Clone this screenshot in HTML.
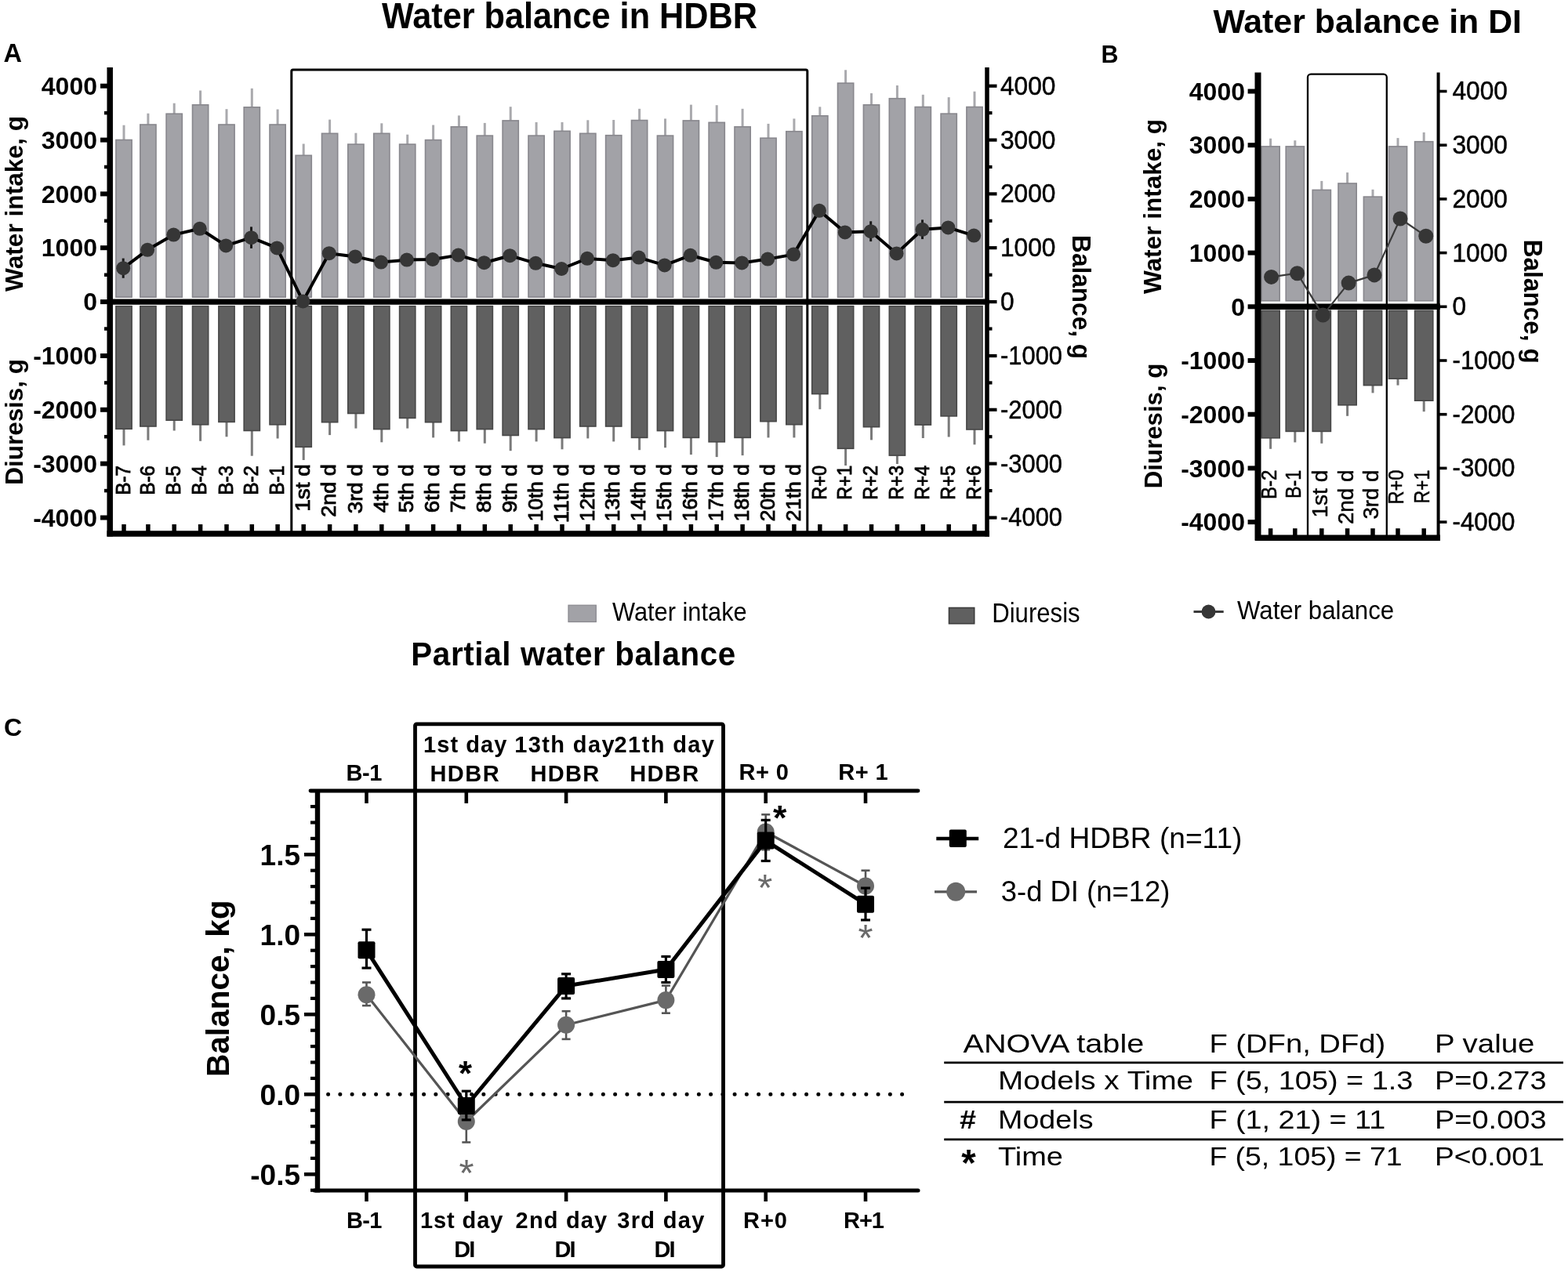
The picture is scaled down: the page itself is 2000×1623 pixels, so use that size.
<!DOCTYPE html>
<html><head><meta charset="utf-8"><title>Water balance</title>
<style>
html,body{margin:0;padding:0;background:#fff;}
body{width:2000px;height:1623px;overflow:hidden;}
svg{display:block;}
svg text{font-family:"Liberation Sans", Arial, sans-serif;}
</style></head><body>
<svg width="2000" height="1623" viewBox="0 0 2000 1623">
<rect width="2000" height="1623" fill="#fff"/>
<line x1="158" y1="178.5" x2="158" y2="159.7" stroke="#a9a9ad" stroke-width="3" stroke-linecap="butt"/>
<rect x="147.9" y="178.5" width="20.2" height="200.6" fill="#a2a2a7" stroke="#88878d" stroke-width="1.6"/>
<line x1="188.9" y1="159" x2="188.9" y2="144.7" stroke="#a9a9ad" stroke-width="3" stroke-linecap="butt"/>
<rect x="178.8" y="159" width="20.2" height="220.1" fill="#a2a2a7" stroke="#88878d" stroke-width="1.6"/>
<line x1="222.2" y1="145.2" x2="222.2" y2="131.7" stroke="#a9a9ad" stroke-width="3" stroke-linecap="butt"/>
<rect x="212.1" y="145.2" width="20.2" height="233.9" fill="#a2a2a7" stroke="#88878d" stroke-width="1.6"/>
<line x1="255.6" y1="133.8" x2="255.6" y2="115.5" stroke="#a9a9ad" stroke-width="3" stroke-linecap="butt"/>
<rect x="245.5" y="133.8" width="20.2" height="245.3" fill="#a2a2a7" stroke="#88878d" stroke-width="1.6"/>
<line x1="289" y1="159" x2="289" y2="139.2" stroke="#a9a9ad" stroke-width="3" stroke-linecap="butt"/>
<rect x="278.9" y="159" width="20.2" height="220.1" fill="#a2a2a7" stroke="#88878d" stroke-width="1.6"/>
<line x1="321.3" y1="136.8" x2="321.3" y2="112.8" stroke="#a9a9ad" stroke-width="3" stroke-linecap="butt"/>
<rect x="311.2" y="136.8" width="20.2" height="242.3" fill="#a2a2a7" stroke="#88878d" stroke-width="1.6"/>
<line x1="354.1" y1="159" x2="354.1" y2="139.5" stroke="#a9a9ad" stroke-width="3" stroke-linecap="butt"/>
<rect x="344" y="159" width="20.2" height="220.1" fill="#a2a2a7" stroke="#88878d" stroke-width="1.6"/>
<line x1="387.2" y1="198.3" x2="387.2" y2="183.5" stroke="#a9a9ad" stroke-width="3" stroke-linecap="butt"/>
<rect x="377.1" y="198.3" width="20.2" height="180.8" fill="#a2a2a7" stroke="#88878d" stroke-width="1.6"/>
<line x1="420.6" y1="170.3" x2="420.6" y2="152.6" stroke="#a9a9ad" stroke-width="3" stroke-linecap="butt"/>
<rect x="410.5" y="170.3" width="20.2" height="208.8" fill="#a2a2a7" stroke="#88878d" stroke-width="1.6"/>
<line x1="453.9" y1="184.1" x2="453.9" y2="169.7" stroke="#a9a9ad" stroke-width="3" stroke-linecap="butt"/>
<rect x="443.8" y="184.1" width="20.2" height="195" fill="#a2a2a7" stroke="#88878d" stroke-width="1.6"/>
<line x1="486.8" y1="170.3" x2="486.8" y2="157.3" stroke="#a9a9ad" stroke-width="3" stroke-linecap="butt"/>
<rect x="476.7" y="170.3" width="20.2" height="208.8" fill="#a2a2a7" stroke="#88878d" stroke-width="1.6"/>
<line x1="519.7" y1="184.1" x2="519.7" y2="171.7" stroke="#a9a9ad" stroke-width="3" stroke-linecap="butt"/>
<rect x="509.6" y="184.1" width="20.2" height="195" fill="#a2a2a7" stroke="#88878d" stroke-width="1.6"/>
<line x1="552.6" y1="178.6" x2="552.6" y2="159.5" stroke="#a9a9ad" stroke-width="3" stroke-linecap="butt"/>
<rect x="542.5" y="178.6" width="20.2" height="200.5" fill="#a2a2a7" stroke="#88878d" stroke-width="1.6"/>
<line x1="585.4" y1="161.8" x2="585.4" y2="147.4" stroke="#a9a9ad" stroke-width="3" stroke-linecap="butt"/>
<rect x="575.3" y="161.8" width="20.2" height="217.3" fill="#a2a2a7" stroke="#88878d" stroke-width="1.6"/>
<line x1="618.3" y1="173.1" x2="618.3" y2="156.9" stroke="#a9a9ad" stroke-width="3" stroke-linecap="butt"/>
<rect x="608.2" y="173.1" width="20.2" height="206" fill="#a2a2a7" stroke="#88878d" stroke-width="1.6"/>
<line x1="651.2" y1="153.9" x2="651.2" y2="136.2" stroke="#a9a9ad" stroke-width="3" stroke-linecap="butt"/>
<rect x="641.1" y="153.9" width="20.2" height="225.2" fill="#a2a2a7" stroke="#88878d" stroke-width="1.6"/>
<line x1="684.1" y1="173.1" x2="684.1" y2="155.9" stroke="#a9a9ad" stroke-width="3" stroke-linecap="butt"/>
<rect x="674" y="173.1" width="20.2" height="206" fill="#a2a2a7" stroke="#88878d" stroke-width="1.6"/>
<line x1="717" y1="167.3" x2="717" y2="155.9" stroke="#a9a9ad" stroke-width="3" stroke-linecap="butt"/>
<rect x="706.9" y="167.3" width="20.2" height="211.8" fill="#a2a2a7" stroke="#88878d" stroke-width="1.6"/>
<line x1="749.8" y1="170.3" x2="749.8" y2="153.3" stroke="#a9a9ad" stroke-width="3" stroke-linecap="butt"/>
<rect x="739.7" y="170.3" width="20.2" height="208.8" fill="#a2a2a7" stroke="#88878d" stroke-width="1.6"/>
<line x1="782.7" y1="172.7" x2="782.7" y2="153" stroke="#a9a9ad" stroke-width="3" stroke-linecap="butt"/>
<rect x="772.6" y="172.7" width="20.2" height="206.4" fill="#a2a2a7" stroke="#88878d" stroke-width="1.6"/>
<line x1="815.6" y1="153.5" x2="815.6" y2="138.8" stroke="#a9a9ad" stroke-width="3" stroke-linecap="butt"/>
<rect x="805.5" y="153.5" width="20.2" height="225.6" fill="#a2a2a7" stroke="#88878d" stroke-width="1.6"/>
<line x1="848.5" y1="173.1" x2="848.5" y2="151.4" stroke="#a9a9ad" stroke-width="3" stroke-linecap="butt"/>
<rect x="838.4" y="173.1" width="20.2" height="206" fill="#a2a2a7" stroke="#88878d" stroke-width="1.6"/>
<line x1="881.4" y1="153.9" x2="881.4" y2="133.6" stroke="#a9a9ad" stroke-width="3" stroke-linecap="butt"/>
<rect x="871.3" y="153.9" width="20.2" height="225.2" fill="#a2a2a7" stroke="#88878d" stroke-width="1.6"/>
<line x1="914.2" y1="156.3" x2="914.2" y2="134.2" stroke="#a9a9ad" stroke-width="3" stroke-linecap="butt"/>
<rect x="904.1" y="156.3" width="20.2" height="222.8" fill="#a2a2a7" stroke="#88878d" stroke-width="1.6"/>
<line x1="947.1" y1="161.8" x2="947.1" y2="138.8" stroke="#a9a9ad" stroke-width="3" stroke-linecap="butt"/>
<rect x="937" y="161.8" width="20.2" height="217.3" fill="#a2a2a7" stroke="#88878d" stroke-width="1.6"/>
<line x1="980" y1="176.2" x2="980" y2="157.9" stroke="#a9a9ad" stroke-width="3" stroke-linecap="butt"/>
<rect x="969.9" y="176.2" width="20.2" height="202.9" fill="#a2a2a7" stroke="#88878d" stroke-width="1.6"/>
<line x1="1012.9" y1="167.7" x2="1012.9" y2="151.4" stroke="#a9a9ad" stroke-width="3" stroke-linecap="butt"/>
<rect x="1002.8" y="167.7" width="20.2" height="211.4" fill="#a2a2a7" stroke="#88878d" stroke-width="1.6"/>
<line x1="1045.8" y1="147.8" x2="1045.8" y2="136.3" stroke="#a9a9ad" stroke-width="3" stroke-linecap="butt"/>
<rect x="1035.7" y="147.8" width="20.2" height="231.3" fill="#a2a2a7" stroke="#88878d" stroke-width="1.6"/>
<line x1="1078.6" y1="106.1" x2="1078.6" y2="89.3" stroke="#a9a9ad" stroke-width="3" stroke-linecap="butt"/>
<rect x="1068.5" y="106.1" width="20.2" height="273" fill="#a2a2a7" stroke="#88878d" stroke-width="1.6"/>
<line x1="1111.5" y1="133.8" x2="1111.5" y2="119" stroke="#a9a9ad" stroke-width="3" stroke-linecap="butt"/>
<rect x="1101.4" y="133.8" width="20.2" height="245.3" fill="#a2a2a7" stroke="#88878d" stroke-width="1.6"/>
<line x1="1144.4" y1="125.7" x2="1144.4" y2="109" stroke="#a9a9ad" stroke-width="3" stroke-linecap="butt"/>
<rect x="1134.3" y="125.7" width="20.2" height="253.4" fill="#a2a2a7" stroke="#88878d" stroke-width="1.6"/>
<line x1="1177.3" y1="136.5" x2="1177.3" y2="120.8" stroke="#a9a9ad" stroke-width="3" stroke-linecap="butt"/>
<rect x="1167.2" y="136.5" width="20.2" height="242.6" fill="#a2a2a7" stroke="#88878d" stroke-width="1.6"/>
<line x1="1210.2" y1="145.1" x2="1210.2" y2="124.1" stroke="#a9a9ad" stroke-width="3" stroke-linecap="butt"/>
<rect x="1200.1" y="145.1" width="20.2" height="234.1" fill="#a2a2a7" stroke="#88878d" stroke-width="1.6"/>
<line x1="1243" y1="136.5" x2="1243" y2="116.7" stroke="#a9a9ad" stroke-width="3" stroke-linecap="butt"/>
<rect x="1232.9" y="136.5" width="20.2" height="242.6" fill="#a2a2a7" stroke="#88878d" stroke-width="1.6"/>
<line x1="158" y1="547.3" x2="158" y2="568.4" stroke="#7a7a7a" stroke-width="3" stroke-linecap="butt"/>
<rect x="147.9" y="390.7" width="20.2" height="156.6" fill="#606060" stroke="#474747" stroke-width="1.6"/>
<line x1="188.9" y1="544" x2="188.9" y2="561.7" stroke="#7a7a7a" stroke-width="3" stroke-linecap="butt"/>
<rect x="178.8" y="390.7" width="20.2" height="153.3" fill="#606060" stroke="#474747" stroke-width="1.6"/>
<line x1="222.2" y1="536.2" x2="222.2" y2="549.5" stroke="#7a7a7a" stroke-width="3" stroke-linecap="butt"/>
<rect x="212.1" y="390.7" width="20.2" height="145.5" fill="#606060" stroke="#474747" stroke-width="1.6"/>
<line x1="255.6" y1="541.8" x2="255.6" y2="562.8" stroke="#7a7a7a" stroke-width="3" stroke-linecap="butt"/>
<rect x="245.5" y="390.7" width="20.2" height="151.1" fill="#606060" stroke="#474747" stroke-width="1.6"/>
<line x1="289" y1="538.4" x2="289" y2="557.3" stroke="#7a7a7a" stroke-width="3" stroke-linecap="butt"/>
<rect x="278.9" y="390.7" width="20.2" height="147.7" fill="#606060" stroke="#474747" stroke-width="1.6"/>
<line x1="321.3" y1="549.5" x2="321.3" y2="581.7" stroke="#7a7a7a" stroke-width="3" stroke-linecap="butt"/>
<rect x="311.2" y="390.7" width="20.2" height="158.8" fill="#606060" stroke="#474747" stroke-width="1.6"/>
<line x1="354.1" y1="541.8" x2="354.1" y2="559.5" stroke="#7a7a7a" stroke-width="3" stroke-linecap="butt"/>
<rect x="344" y="390.7" width="20.2" height="151.1" fill="#606060" stroke="#474747" stroke-width="1.6"/>
<line x1="387.2" y1="570.3" x2="387.2" y2="587" stroke="#7a7a7a" stroke-width="3" stroke-linecap="butt"/>
<rect x="377.1" y="390.7" width="20.2" height="179.6" fill="#606060" stroke="#474747" stroke-width="1.6"/>
<line x1="420.6" y1="538.7" x2="420.6" y2="555.1" stroke="#7a7a7a" stroke-width="3" stroke-linecap="butt"/>
<rect x="410.5" y="390.7" width="20.2" height="148" fill="#606060" stroke="#474747" stroke-width="1.6"/>
<line x1="453.9" y1="527.5" x2="453.9" y2="546.6" stroke="#7a7a7a" stroke-width="3" stroke-linecap="butt"/>
<rect x="443.8" y="390.7" width="20.2" height="136.8" fill="#606060" stroke="#474747" stroke-width="1.6"/>
<line x1="486.8" y1="547.6" x2="486.8" y2="564.3" stroke="#7a7a7a" stroke-width="3" stroke-linecap="butt"/>
<rect x="476.7" y="390.7" width="20.2" height="156.9" fill="#606060" stroke="#474747" stroke-width="1.6"/>
<line x1="519.7" y1="533.4" x2="519.7" y2="546.6" stroke="#7a7a7a" stroke-width="3" stroke-linecap="butt"/>
<rect x="509.6" y="390.7" width="20.2" height="142.7" fill="#606060" stroke="#474747" stroke-width="1.6"/>
<line x1="552.6" y1="538.7" x2="552.6" y2="558.4" stroke="#7a7a7a" stroke-width="3" stroke-linecap="butt"/>
<rect x="542.5" y="390.7" width="20.2" height="148" fill="#606060" stroke="#474747" stroke-width="1.6"/>
<line x1="585.4" y1="549.6" x2="585.4" y2="563.4" stroke="#7a7a7a" stroke-width="3" stroke-linecap="butt"/>
<rect x="575.3" y="390.7" width="20.2" height="158.9" fill="#606060" stroke="#474747" stroke-width="1.6"/>
<line x1="618.3" y1="547.6" x2="618.3" y2="565.7" stroke="#7a7a7a" stroke-width="3" stroke-linecap="butt"/>
<rect x="608.2" y="390.7" width="20.2" height="156.9" fill="#606060" stroke="#474747" stroke-width="1.6"/>
<line x1="651.2" y1="555.5" x2="651.2" y2="575.2" stroke="#7a7a7a" stroke-width="3" stroke-linecap="butt"/>
<rect x="641.1" y="390.7" width="20.2" height="164.8" fill="#606060" stroke="#474747" stroke-width="1.6"/>
<line x1="684.1" y1="547.6" x2="684.1" y2="563.4" stroke="#7a7a7a" stroke-width="3" stroke-linecap="butt"/>
<rect x="674" y="390.7" width="20.2" height="156.9" fill="#606060" stroke="#474747" stroke-width="1.6"/>
<line x1="717" y1="558.6" x2="717" y2="573.3" stroke="#7a7a7a" stroke-width="3" stroke-linecap="butt"/>
<rect x="706.9" y="390.7" width="20.2" height="167.9" fill="#606060" stroke="#474747" stroke-width="1.6"/>
<line x1="749.8" y1="544" x2="749.8" y2="559.4" stroke="#7a7a7a" stroke-width="3" stroke-linecap="butt"/>
<rect x="739.7" y="390.7" width="20.2" height="153.3" fill="#606060" stroke="#474747" stroke-width="1.6"/>
<line x1="782.7" y1="544" x2="782.7" y2="563.4" stroke="#7a7a7a" stroke-width="3" stroke-linecap="butt"/>
<rect x="772.6" y="390.7" width="20.2" height="153.3" fill="#606060" stroke="#474747" stroke-width="1.6"/>
<line x1="815.6" y1="558.4" x2="815.6" y2="574.2" stroke="#7a7a7a" stroke-width="3" stroke-linecap="butt"/>
<rect x="805.5" y="390.7" width="20.2" height="167.7" fill="#606060" stroke="#474747" stroke-width="1.6"/>
<line x1="848.5" y1="549.6" x2="848.5" y2="571.2" stroke="#7a7a7a" stroke-width="3" stroke-linecap="butt"/>
<rect x="838.4" y="390.7" width="20.2" height="158.9" fill="#606060" stroke="#474747" stroke-width="1.6"/>
<line x1="881.4" y1="558.4" x2="881.4" y2="580.1" stroke="#7a7a7a" stroke-width="3" stroke-linecap="butt"/>
<rect x="871.3" y="390.7" width="20.2" height="167.7" fill="#606060" stroke="#474747" stroke-width="1.6"/>
<line x1="914.2" y1="563.8" x2="914.2" y2="583.1" stroke="#7a7a7a" stroke-width="3" stroke-linecap="butt"/>
<rect x="904.1" y="390.7" width="20.2" height="173.1" fill="#606060" stroke="#474747" stroke-width="1.6"/>
<line x1="947.1" y1="558.4" x2="947.1" y2="581.1" stroke="#7a7a7a" stroke-width="3" stroke-linecap="butt"/>
<rect x="937" y="390.7" width="20.2" height="167.7" fill="#606060" stroke="#474747" stroke-width="1.6"/>
<line x1="980" y1="537.7" x2="980" y2="558.4" stroke="#7a7a7a" stroke-width="3" stroke-linecap="butt"/>
<rect x="969.9" y="390.7" width="20.2" height="147" fill="#606060" stroke="#474747" stroke-width="1.6"/>
<line x1="1012.9" y1="541.7" x2="1012.9" y2="558.4" stroke="#7a7a7a" stroke-width="3" stroke-linecap="butt"/>
<rect x="1002.8" y="390.7" width="20.2" height="151" fill="#606060" stroke="#474747" stroke-width="1.6"/>
<line x1="1045.8" y1="502.6" x2="1045.8" y2="522.2" stroke="#7a7a7a" stroke-width="3" stroke-linecap="butt"/>
<rect x="1035.7" y="390.7" width="20.2" height="111.9" fill="#606060" stroke="#474747" stroke-width="1.6"/>
<line x1="1078.6" y1="572.3" x2="1078.6" y2="594" stroke="#7a7a7a" stroke-width="3" stroke-linecap="butt"/>
<rect x="1068.5" y="390.7" width="20.2" height="181.6" fill="#606060" stroke="#474747" stroke-width="1.6"/>
<line x1="1111.5" y1="544.7" x2="1111.5" y2="561.4" stroke="#7a7a7a" stroke-width="3" stroke-linecap="butt"/>
<rect x="1101.4" y="390.7" width="20.2" height="154" fill="#606060" stroke="#474747" stroke-width="1.6"/>
<line x1="1144.4" y1="581.1" x2="1144.4" y2="592" stroke="#7a7a7a" stroke-width="3" stroke-linecap="butt"/>
<rect x="1134.3" y="390.7" width="20.2" height="190.4" fill="#606060" stroke="#474747" stroke-width="1.6"/>
<line x1="1177.3" y1="542.1" x2="1177.3" y2="559" stroke="#7a7a7a" stroke-width="3" stroke-linecap="butt"/>
<rect x="1167.2" y="390.7" width="20.2" height="151.4" fill="#606060" stroke="#474747" stroke-width="1.6"/>
<line x1="1210.2" y1="530.9" x2="1210.2" y2="557.5" stroke="#7a7a7a" stroke-width="3" stroke-linecap="butt"/>
<rect x="1200.1" y="390.7" width="20.2" height="140.2" fill="#606060" stroke="#474747" stroke-width="1.6"/>
<line x1="1243" y1="548" x2="1243" y2="567.3" stroke="#7a7a7a" stroke-width="3" stroke-linecap="butt"/>
<rect x="1232.9" y="390.7" width="20.2" height="157.3" fill="#606060" stroke="#474747" stroke-width="1.6"/>
<rect x="371.8" y="89" width="658" height="592" fill="none" stroke="#000" stroke-width="3" rx="2"/>
<line x1="137" y1="385.1" x2="1262" y2="385.1" stroke="#000" stroke-width="7.2" stroke-linecap="butt"/>
<line x1="140.2" y1="86" x2="140.2" y2="684.5" stroke="#000" stroke-width="7.5" stroke-linecap="butt"/>
<line x1="1259" y1="86" x2="1259" y2="684.5" stroke="#000" stroke-width="5.5" stroke-linecap="butt"/>
<line x1="136.5" y1="681" x2="1262" y2="681" stroke="#000" stroke-width="7.5" stroke-linecap="butt"/>
<line x1="158" y1="669" x2="158" y2="681" stroke="#000" stroke-width="5.5" stroke-linecap="butt"/>
<line x1="188.9" y1="669" x2="188.9" y2="681" stroke="#000" stroke-width="5.5" stroke-linecap="butt"/>
<line x1="222.2" y1="669" x2="222.2" y2="681" stroke="#000" stroke-width="5.5" stroke-linecap="butt"/>
<line x1="255.6" y1="669" x2="255.6" y2="681" stroke="#000" stroke-width="5.5" stroke-linecap="butt"/>
<line x1="289" y1="669" x2="289" y2="681" stroke="#000" stroke-width="5.5" stroke-linecap="butt"/>
<line x1="321.3" y1="669" x2="321.3" y2="681" stroke="#000" stroke-width="5.5" stroke-linecap="butt"/>
<line x1="354.1" y1="669" x2="354.1" y2="681" stroke="#000" stroke-width="5.5" stroke-linecap="butt"/>
<line x1="387.2" y1="669" x2="387.2" y2="681" stroke="#000" stroke-width="5.5" stroke-linecap="butt"/>
<line x1="420.6" y1="669" x2="420.6" y2="681" stroke="#000" stroke-width="5.5" stroke-linecap="butt"/>
<line x1="453.9" y1="669" x2="453.9" y2="681" stroke="#000" stroke-width="5.5" stroke-linecap="butt"/>
<line x1="486.8" y1="669" x2="486.8" y2="681" stroke="#000" stroke-width="5.5" stroke-linecap="butt"/>
<line x1="519.7" y1="669" x2="519.7" y2="681" stroke="#000" stroke-width="5.5" stroke-linecap="butt"/>
<line x1="552.6" y1="669" x2="552.6" y2="681" stroke="#000" stroke-width="5.5" stroke-linecap="butt"/>
<line x1="585.4" y1="669" x2="585.4" y2="681" stroke="#000" stroke-width="5.5" stroke-linecap="butt"/>
<line x1="618.3" y1="669" x2="618.3" y2="681" stroke="#000" stroke-width="5.5" stroke-linecap="butt"/>
<line x1="651.2" y1="669" x2="651.2" y2="681" stroke="#000" stroke-width="5.5" stroke-linecap="butt"/>
<line x1="684.1" y1="669" x2="684.1" y2="681" stroke="#000" stroke-width="5.5" stroke-linecap="butt"/>
<line x1="717" y1="669" x2="717" y2="681" stroke="#000" stroke-width="5.5" stroke-linecap="butt"/>
<line x1="749.8" y1="669" x2="749.8" y2="681" stroke="#000" stroke-width="5.5" stroke-linecap="butt"/>
<line x1="782.7" y1="669" x2="782.7" y2="681" stroke="#000" stroke-width="5.5" stroke-linecap="butt"/>
<line x1="815.6" y1="669" x2="815.6" y2="681" stroke="#000" stroke-width="5.5" stroke-linecap="butt"/>
<line x1="848.5" y1="669" x2="848.5" y2="681" stroke="#000" stroke-width="5.5" stroke-linecap="butt"/>
<line x1="881.4" y1="669" x2="881.4" y2="681" stroke="#000" stroke-width="5.5" stroke-linecap="butt"/>
<line x1="914.2" y1="669" x2="914.2" y2="681" stroke="#000" stroke-width="5.5" stroke-linecap="butt"/>
<line x1="947.1" y1="669" x2="947.1" y2="681" stroke="#000" stroke-width="5.5" stroke-linecap="butt"/>
<line x1="980" y1="669" x2="980" y2="681" stroke="#000" stroke-width="5.5" stroke-linecap="butt"/>
<line x1="1012.9" y1="669" x2="1012.9" y2="681" stroke="#000" stroke-width="5.5" stroke-linecap="butt"/>
<line x1="1045.8" y1="669" x2="1045.8" y2="681" stroke="#000" stroke-width="5.5" stroke-linecap="butt"/>
<line x1="1078.6" y1="669" x2="1078.6" y2="681" stroke="#000" stroke-width="5.5" stroke-linecap="butt"/>
<line x1="1111.5" y1="669" x2="1111.5" y2="681" stroke="#000" stroke-width="5.5" stroke-linecap="butt"/>
<line x1="1144.4" y1="669" x2="1144.4" y2="681" stroke="#000" stroke-width="5.5" stroke-linecap="butt"/>
<line x1="1177.3" y1="669" x2="1177.3" y2="681" stroke="#000" stroke-width="5.5" stroke-linecap="butt"/>
<line x1="1210.2" y1="669" x2="1210.2" y2="681" stroke="#000" stroke-width="5.5" stroke-linecap="butt"/>
<line x1="1243" y1="669" x2="1243" y2="681" stroke="#000" stroke-width="5.5" stroke-linecap="butt"/>
<line x1="128" y1="660.5" x2="140.2" y2="660.5" stroke="#000" stroke-width="6" stroke-linecap="butt"/>
<line x1="1259" y1="660.5" x2="1271.5" y2="660.5" stroke="#000" stroke-width="4.2" stroke-linecap="butt"/>
<line x1="133" y1="626.1" x2="140.2" y2="626.1" stroke="#000" stroke-width="4.5" stroke-linecap="butt"/>
<line x1="1259" y1="626.1" x2="1265.5" y2="626.1" stroke="#000" stroke-width="4.2" stroke-linecap="butt"/>
<line x1="128" y1="591.6" x2="140.2" y2="591.6" stroke="#000" stroke-width="6" stroke-linecap="butt"/>
<line x1="1259" y1="591.6" x2="1271.5" y2="591.6" stroke="#000" stroke-width="4.2" stroke-linecap="butt"/>
<line x1="133" y1="557.2" x2="140.2" y2="557.2" stroke="#000" stroke-width="4.5" stroke-linecap="butt"/>
<line x1="1259" y1="557.2" x2="1265.5" y2="557.2" stroke="#000" stroke-width="4.2" stroke-linecap="butt"/>
<line x1="128" y1="522.8" x2="140.2" y2="522.8" stroke="#000" stroke-width="6" stroke-linecap="butt"/>
<line x1="1259" y1="522.8" x2="1271.5" y2="522.8" stroke="#000" stroke-width="4.2" stroke-linecap="butt"/>
<line x1="133" y1="488.4" x2="140.2" y2="488.4" stroke="#000" stroke-width="4.5" stroke-linecap="butt"/>
<line x1="1259" y1="488.4" x2="1265.5" y2="488.4" stroke="#000" stroke-width="4.2" stroke-linecap="butt"/>
<line x1="128" y1="454" x2="140.2" y2="454" stroke="#000" stroke-width="6" stroke-linecap="butt"/>
<line x1="1259" y1="454" x2="1271.5" y2="454" stroke="#000" stroke-width="4.2" stroke-linecap="butt"/>
<line x1="133" y1="419.5" x2="140.2" y2="419.5" stroke="#000" stroke-width="4.5" stroke-linecap="butt"/>
<line x1="1259" y1="419.5" x2="1265.5" y2="419.5" stroke="#000" stroke-width="4.2" stroke-linecap="butt"/>
<line x1="128" y1="385.1" x2="140.2" y2="385.1" stroke="#000" stroke-width="6" stroke-linecap="butt"/>
<line x1="1259" y1="385.1" x2="1271.5" y2="385.1" stroke="#000" stroke-width="4.2" stroke-linecap="butt"/>
<line x1="133" y1="350.7" x2="140.2" y2="350.7" stroke="#000" stroke-width="4.5" stroke-linecap="butt"/>
<line x1="1259" y1="350.7" x2="1265.5" y2="350.7" stroke="#000" stroke-width="4.2" stroke-linecap="butt"/>
<line x1="128" y1="316.2" x2="140.2" y2="316.2" stroke="#000" stroke-width="6" stroke-linecap="butt"/>
<line x1="1259" y1="316.2" x2="1271.5" y2="316.2" stroke="#000" stroke-width="4.2" stroke-linecap="butt"/>
<line x1="133" y1="281.8" x2="140.2" y2="281.8" stroke="#000" stroke-width="4.5" stroke-linecap="butt"/>
<line x1="1259" y1="281.8" x2="1265.5" y2="281.8" stroke="#000" stroke-width="4.2" stroke-linecap="butt"/>
<line x1="128" y1="247.4" x2="140.2" y2="247.4" stroke="#000" stroke-width="6" stroke-linecap="butt"/>
<line x1="1259" y1="247.4" x2="1271.5" y2="247.4" stroke="#000" stroke-width="4.2" stroke-linecap="butt"/>
<line x1="133" y1="213" x2="140.2" y2="213" stroke="#000" stroke-width="4.5" stroke-linecap="butt"/>
<line x1="1259" y1="213" x2="1265.5" y2="213" stroke="#000" stroke-width="4.2" stroke-linecap="butt"/>
<line x1="128" y1="178.6" x2="140.2" y2="178.6" stroke="#000" stroke-width="6" stroke-linecap="butt"/>
<line x1="1259" y1="178.6" x2="1271.5" y2="178.6" stroke="#000" stroke-width="4.2" stroke-linecap="butt"/>
<line x1="133" y1="144.1" x2="140.2" y2="144.1" stroke="#000" stroke-width="4.5" stroke-linecap="butt"/>
<line x1="1259" y1="144.1" x2="1265.5" y2="144.1" stroke="#000" stroke-width="4.2" stroke-linecap="butt"/>
<line x1="128" y1="109.7" x2="140.2" y2="109.7" stroke="#000" stroke-width="6" stroke-linecap="butt"/>
<line x1="1259" y1="109.7" x2="1271.5" y2="109.7" stroke="#000" stroke-width="4.2" stroke-linecap="butt"/>
<text x="124" y="671.7" font-size="32" font-weight="bold" text-anchor="end">-4000</text>
<text x="1276" y="671.4" font-size="33.5" textLength="79" lengthAdjust="spacingAndGlyphs" stroke="#000" stroke-width="0.5">-4000</text>
<text x="124" y="602.9" font-size="32" font-weight="bold" text-anchor="end">-3000</text>
<text x="1276" y="602.6" font-size="33.5" textLength="79" lengthAdjust="spacingAndGlyphs" stroke="#000" stroke-width="0.5">-3000</text>
<text x="124" y="534" font-size="32" font-weight="bold" text-anchor="end">-2000</text>
<text x="1276" y="533.7" font-size="33.5" textLength="79" lengthAdjust="spacingAndGlyphs" stroke="#000" stroke-width="0.5">-2000</text>
<text x="124" y="465.2" font-size="32" font-weight="bold" text-anchor="end">-1000</text>
<text x="1276" y="464.9" font-size="33.5" textLength="79" lengthAdjust="spacingAndGlyphs" stroke="#000" stroke-width="0.5">-1000</text>
<text x="124" y="396.3" font-size="32" font-weight="bold" text-anchor="end">0</text>
<text x="1276" y="396" font-size="33.5" textLength="17.6" lengthAdjust="spacingAndGlyphs" stroke="#000" stroke-width="0.5">0</text>
<text x="124" y="327.4" font-size="32" font-weight="bold" text-anchor="end">1000</text>
<text x="1276" y="327.1" font-size="33.5" textLength="70.5" lengthAdjust="spacingAndGlyphs" stroke="#000" stroke-width="0.5">1000</text>
<text x="124" y="258.6" font-size="32" font-weight="bold" text-anchor="end">2000</text>
<text x="1276" y="258.3" font-size="33.5" textLength="70.5" lengthAdjust="spacingAndGlyphs" stroke="#000" stroke-width="0.5">2000</text>
<text x="124" y="189.8" font-size="32" font-weight="bold" text-anchor="end">3000</text>
<text x="1276" y="189.5" font-size="33.5" textLength="70.5" lengthAdjust="spacingAndGlyphs" stroke="#000" stroke-width="0.5">3000</text>
<text x="124" y="120.9" font-size="32" font-weight="bold" text-anchor="end">4000</text>
<text x="1276" y="120.6" font-size="33.5" textLength="70.5" lengthAdjust="spacingAndGlyphs" stroke="#000" stroke-width="0.5">4000</text>
<polyline points="157.2,342.2 188.1,318.8 221.4,299.6 254.8,291.8 288.2,313.4 320.5,303.2 353.3,316.4 386.4,384.4 419.8,323.2 453.1,327.4 486,334.6 518.9,331.6 551.8,331 584.6,325.6 617.5,335.2 650.4,326.2 683.3,335.8 716.2,343 749,329.8 781.9,332.2 814.8,328.6 847.7,338.4 880.6,325.8 913.4,334.8 946.3,335.4 979.2,330.6 1012.1,324.6 1045,268.8 1077.8,296.4 1110.7,295.2 1143.6,323.4 1176.5,292.8 1209.4,290.4 1242.2,300.6" fill="none" stroke="#000" stroke-width="4.0" stroke-linejoin="round"/>
<line x1="157.2" y1="354.8" x2="157.2" y2="329.6" stroke="#1a1a1a" stroke-width="3" stroke-linecap="butt"/>
<line x1="188.1" y1="326.4" x2="188.1" y2="311.2" stroke="#1a1a1a" stroke-width="3" stroke-linecap="butt"/>
<line x1="221.4" y1="307.2" x2="221.4" y2="292" stroke="#1a1a1a" stroke-width="3" stroke-linecap="butt"/>
<line x1="254.8" y1="299.4" x2="254.8" y2="284.2" stroke="#1a1a1a" stroke-width="3" stroke-linecap="butt"/>
<line x1="288.2" y1="321" x2="288.2" y2="305.9" stroke="#1a1a1a" stroke-width="3" stroke-linecap="butt"/>
<line x1="320.5" y1="316.9" x2="320.5" y2="289.4" stroke="#1a1a1a" stroke-width="3" stroke-linecap="butt"/>
<line x1="353.3" y1="324" x2="353.3" y2="308.8" stroke="#1a1a1a" stroke-width="3" stroke-linecap="butt"/>
<line x1="386.4" y1="392" x2="386.4" y2="376.8" stroke="#1a1a1a" stroke-width="3" stroke-linecap="butt"/>
<line x1="419.8" y1="330.8" x2="419.8" y2="315.6" stroke="#1a1a1a" stroke-width="3" stroke-linecap="butt"/>
<line x1="453.1" y1="335" x2="453.1" y2="319.8" stroke="#1a1a1a" stroke-width="3" stroke-linecap="butt"/>
<line x1="486" y1="342.2" x2="486" y2="327.1" stroke="#1a1a1a" stroke-width="3" stroke-linecap="butt"/>
<line x1="518.9" y1="339.2" x2="518.9" y2="324" stroke="#1a1a1a" stroke-width="3" stroke-linecap="butt"/>
<line x1="551.8" y1="338.6" x2="551.8" y2="323.4" stroke="#1a1a1a" stroke-width="3" stroke-linecap="butt"/>
<line x1="584.6" y1="333.2" x2="584.6" y2="318" stroke="#1a1a1a" stroke-width="3" stroke-linecap="butt"/>
<line x1="617.5" y1="342.8" x2="617.5" y2="327.6" stroke="#1a1a1a" stroke-width="3" stroke-linecap="butt"/>
<line x1="650.4" y1="333.7" x2="650.4" y2="318.6" stroke="#1a1a1a" stroke-width="3" stroke-linecap="butt"/>
<line x1="683.3" y1="343.4" x2="683.3" y2="328.2" stroke="#1a1a1a" stroke-width="3" stroke-linecap="butt"/>
<line x1="716.2" y1="350.6" x2="716.2" y2="335.5" stroke="#1a1a1a" stroke-width="3" stroke-linecap="butt"/>
<line x1="749" y1="337.4" x2="749" y2="322.2" stroke="#1a1a1a" stroke-width="3" stroke-linecap="butt"/>
<line x1="781.9" y1="339.8" x2="781.9" y2="324.6" stroke="#1a1a1a" stroke-width="3" stroke-linecap="butt"/>
<line x1="814.8" y1="336.1" x2="814.8" y2="321" stroke="#1a1a1a" stroke-width="3" stroke-linecap="butt"/>
<line x1="847.7" y1="346" x2="847.7" y2="330.8" stroke="#1a1a1a" stroke-width="3" stroke-linecap="butt"/>
<line x1="880.6" y1="333.4" x2="880.6" y2="318.2" stroke="#1a1a1a" stroke-width="3" stroke-linecap="butt"/>
<line x1="913.4" y1="342.3" x2="913.4" y2="327.2" stroke="#1a1a1a" stroke-width="3" stroke-linecap="butt"/>
<line x1="946.3" y1="343" x2="946.3" y2="327.8" stroke="#1a1a1a" stroke-width="3" stroke-linecap="butt"/>
<line x1="979.2" y1="338.1" x2="979.2" y2="323" stroke="#1a1a1a" stroke-width="3" stroke-linecap="butt"/>
<line x1="1012.1" y1="332.2" x2="1012.1" y2="317" stroke="#1a1a1a" stroke-width="3" stroke-linecap="butt"/>
<line x1="1045" y1="276.4" x2="1045" y2="261.2" stroke="#1a1a1a" stroke-width="3" stroke-linecap="butt"/>
<line x1="1077.8" y1="304" x2="1077.8" y2="288.8" stroke="#1a1a1a" stroke-width="3" stroke-linecap="butt"/>
<line x1="1110.7" y1="308.1" x2="1110.7" y2="282.3" stroke="#1a1a1a" stroke-width="3" stroke-linecap="butt"/>
<line x1="1143.6" y1="331.7" x2="1143.6" y2="315.1" stroke="#1a1a1a" stroke-width="3" stroke-linecap="butt"/>
<line x1="1176.5" y1="305.1" x2="1176.5" y2="280.4" stroke="#1a1a1a" stroke-width="3" stroke-linecap="butt"/>
<line x1="1209.4" y1="298" x2="1209.4" y2="282.9" stroke="#1a1a1a" stroke-width="3" stroke-linecap="butt"/>
<line x1="1242.2" y1="308.9" x2="1242.2" y2="292.4" stroke="#1a1a1a" stroke-width="3" stroke-linecap="butt"/>
<circle cx="157.2" cy="342.2" r="9" fill="#363636"/>
<circle cx="188.1" cy="318.8" r="9" fill="#363636"/>
<circle cx="221.4" cy="299.6" r="9" fill="#363636"/>
<circle cx="254.8" cy="291.8" r="9" fill="#363636"/>
<circle cx="288.2" cy="313.4" r="9" fill="#363636"/>
<circle cx="320.5" cy="303.2" r="9" fill="#363636"/>
<circle cx="353.3" cy="316.4" r="9" fill="#363636"/>
<circle cx="386.4" cy="384.4" r="9" fill="#363636"/>
<circle cx="419.8" cy="323.2" r="9" fill="#363636"/>
<circle cx="453.1" cy="327.4" r="9" fill="#363636"/>
<circle cx="486" cy="334.6" r="9" fill="#363636"/>
<circle cx="518.9" cy="331.6" r="9" fill="#363636"/>
<circle cx="551.8" cy="331" r="9" fill="#363636"/>
<circle cx="584.6" cy="325.6" r="9" fill="#363636"/>
<circle cx="617.5" cy="335.2" r="9" fill="#363636"/>
<circle cx="650.4" cy="326.2" r="9" fill="#363636"/>
<circle cx="683.3" cy="335.8" r="9" fill="#363636"/>
<circle cx="716.2" cy="343" r="9" fill="#363636"/>
<circle cx="749" cy="329.8" r="9" fill="#363636"/>
<circle cx="781.9" cy="332.2" r="9" fill="#363636"/>
<circle cx="814.8" cy="328.6" r="9" fill="#363636"/>
<circle cx="847.7" cy="338.4" r="9" fill="#363636"/>
<circle cx="880.6" cy="325.8" r="9" fill="#363636"/>
<circle cx="913.4" cy="334.8" r="9" fill="#363636"/>
<circle cx="946.3" cy="335.4" r="9" fill="#363636"/>
<circle cx="979.2" cy="330.6" r="9" fill="#363636"/>
<circle cx="1012.1" cy="324.6" r="9" fill="#363636"/>
<circle cx="1045" cy="268.8" r="9" fill="#363636"/>
<circle cx="1077.8" cy="296.4" r="9" fill="#363636"/>
<circle cx="1110.7" cy="295.2" r="9" fill="#363636"/>
<circle cx="1143.6" cy="323.4" r="9" fill="#363636"/>
<circle cx="1176.5" cy="292.8" r="9" fill="#363636"/>
<circle cx="1209.4" cy="290.4" r="9" fill="#363636"/>
<circle cx="1242.2" cy="300.6" r="9" fill="#363636"/>
<text x="165.8" y="594" font-size="26" text-anchor="end" transform="rotate(-90 165.8 594)" textLength="37.5" lengthAdjust="spacingAndGlyphs" stroke="#000" stroke-width="0.9">B-7</text>
<text x="196.7" y="594" font-size="26" text-anchor="end" transform="rotate(-90 196.7 594)" textLength="37.5" lengthAdjust="spacingAndGlyphs" stroke="#000" stroke-width="0.9">B-6</text>
<text x="230" y="594" font-size="26" text-anchor="end" transform="rotate(-90 230 594)" textLength="37.5" lengthAdjust="spacingAndGlyphs" stroke="#000" stroke-width="0.9">B-5</text>
<text x="263.4" y="594" font-size="26" text-anchor="end" transform="rotate(-90 263.4 594)" textLength="37.5" lengthAdjust="spacingAndGlyphs" stroke="#000" stroke-width="0.9">B-4</text>
<text x="296.8" y="594" font-size="26" text-anchor="end" transform="rotate(-90 296.8 594)" textLength="37.5" lengthAdjust="spacingAndGlyphs" stroke="#000" stroke-width="0.9">B-3</text>
<text x="329.1" y="594" font-size="26" text-anchor="end" transform="rotate(-90 329.1 594)" textLength="37.5" lengthAdjust="spacingAndGlyphs" stroke="#000" stroke-width="0.9">B-2</text>
<text x="361.9" y="594" font-size="26" text-anchor="end" transform="rotate(-90 361.9 594)" textLength="37.5" lengthAdjust="spacingAndGlyphs" stroke="#000" stroke-width="0.9">B-1</text>
<text x="395" y="592.2" font-size="26" text-anchor="end" transform="rotate(-90 395 592.2)" textLength="60.5" lengthAdjust="spacingAndGlyphs" stroke="#000" stroke-width="0.9">1st d</text>
<text x="428.4" y="592.2" font-size="26" text-anchor="end" transform="rotate(-90 428.4 592.2)" textLength="67.5" lengthAdjust="spacingAndGlyphs" stroke="#000" stroke-width="0.9">2nd d</text>
<text x="461.7" y="592.2" font-size="26" text-anchor="end" transform="rotate(-90 461.7 592.2)" textLength="63" lengthAdjust="spacingAndGlyphs" stroke="#000" stroke-width="0.9">3rd d</text>
<text x="494.6" y="592.2" font-size="26" text-anchor="end" transform="rotate(-90 494.6 592.2)" textLength="62" lengthAdjust="spacingAndGlyphs" stroke="#000" stroke-width="0.9">4th d</text>
<text x="527.5" y="592.2" font-size="26" text-anchor="end" transform="rotate(-90 527.5 592.2)" textLength="62" lengthAdjust="spacingAndGlyphs" stroke="#000" stroke-width="0.9">5th d</text>
<text x="560.4" y="592.2" font-size="26" text-anchor="end" transform="rotate(-90 560.4 592.2)" textLength="62" lengthAdjust="spacingAndGlyphs" stroke="#000" stroke-width="0.9">6th d</text>
<text x="593.2" y="592.2" font-size="26" text-anchor="end" transform="rotate(-90 593.2 592.2)" textLength="62" lengthAdjust="spacingAndGlyphs" stroke="#000" stroke-width="0.9">7th d</text>
<text x="626.1" y="592.2" font-size="26" text-anchor="end" transform="rotate(-90 626.1 592.2)" textLength="62" lengthAdjust="spacingAndGlyphs" stroke="#000" stroke-width="0.9">8th d</text>
<text x="659" y="592.2" font-size="26" text-anchor="end" transform="rotate(-90 659 592.2)" textLength="62" lengthAdjust="spacingAndGlyphs" stroke="#000" stroke-width="0.9">9th d</text>
<text x="691.9" y="592.2" font-size="26" text-anchor="end" transform="rotate(-90 691.9 592.2)" textLength="73" lengthAdjust="spacingAndGlyphs" stroke="#000" stroke-width="0.9">10th d</text>
<text x="724.8" y="592.2" font-size="26" text-anchor="end" transform="rotate(-90 724.8 592.2)" textLength="75" lengthAdjust="spacingAndGlyphs" stroke="#000" stroke-width="0.9">11th d</text>
<text x="757.6" y="592.2" font-size="26" text-anchor="end" transform="rotate(-90 757.6 592.2)" textLength="73" lengthAdjust="spacingAndGlyphs" stroke="#000" stroke-width="0.9">12th d</text>
<text x="790.5" y="592.2" font-size="26" text-anchor="end" transform="rotate(-90 790.5 592.2)" textLength="73" lengthAdjust="spacingAndGlyphs" stroke="#000" stroke-width="0.9">13th d</text>
<text x="823.4" y="592.2" font-size="26" text-anchor="end" transform="rotate(-90 823.4 592.2)" textLength="73" lengthAdjust="spacingAndGlyphs" stroke="#000" stroke-width="0.9">14th d</text>
<text x="856.3" y="592.2" font-size="26" text-anchor="end" transform="rotate(-90 856.3 592.2)" textLength="73" lengthAdjust="spacingAndGlyphs" stroke="#000" stroke-width="0.9">15th d</text>
<text x="889.2" y="592.2" font-size="26" text-anchor="end" transform="rotate(-90 889.2 592.2)" textLength="73" lengthAdjust="spacingAndGlyphs" stroke="#000" stroke-width="0.9">16th d</text>
<text x="922" y="592.2" font-size="26" text-anchor="end" transform="rotate(-90 922 592.2)" textLength="73" lengthAdjust="spacingAndGlyphs" stroke="#000" stroke-width="0.9">17th d</text>
<text x="954.9" y="592.2" font-size="26" text-anchor="end" transform="rotate(-90 954.9 592.2)" textLength="73" lengthAdjust="spacingAndGlyphs" stroke="#000" stroke-width="0.9">18th d</text>
<text x="987.8" y="592.2" font-size="26" text-anchor="end" transform="rotate(-90 987.8 592.2)" textLength="73" lengthAdjust="spacingAndGlyphs" stroke="#000" stroke-width="0.9">20th d</text>
<text x="1020.7" y="592.2" font-size="26" text-anchor="end" transform="rotate(-90 1020.7 592.2)" textLength="73" lengthAdjust="spacingAndGlyphs" stroke="#000" stroke-width="0.9">21th d</text>
<text x="1053.6" y="593.8" font-size="26" text-anchor="end" transform="rotate(-90 1053.6 593.8)" textLength="44" lengthAdjust="spacingAndGlyphs" stroke="#000" stroke-width="0.9">R+0</text>
<text x="1086.4" y="593.8" font-size="26" text-anchor="end" transform="rotate(-90 1086.4 593.8)" textLength="44" lengthAdjust="spacingAndGlyphs" stroke="#000" stroke-width="0.9">R+1</text>
<text x="1119.3" y="593.8" font-size="26" text-anchor="end" transform="rotate(-90 1119.3 593.8)" textLength="44" lengthAdjust="spacingAndGlyphs" stroke="#000" stroke-width="0.9">R+2</text>
<text x="1152.2" y="593.8" font-size="26" text-anchor="end" transform="rotate(-90 1152.2 593.8)" textLength="44" lengthAdjust="spacingAndGlyphs" stroke="#000" stroke-width="0.9">R+3</text>
<text x="1185.1" y="593.8" font-size="26" text-anchor="end" transform="rotate(-90 1185.1 593.8)" textLength="44" lengthAdjust="spacingAndGlyphs" stroke="#000" stroke-width="0.9">R+4</text>
<text x="1218" y="593.8" font-size="26" text-anchor="end" transform="rotate(-90 1218 593.8)" textLength="44" lengthAdjust="spacingAndGlyphs" stroke="#000" stroke-width="0.9">R+5</text>
<text x="1250.8" y="593.8" font-size="26" text-anchor="end" transform="rotate(-90 1250.8 593.8)" textLength="44" lengthAdjust="spacingAndGlyphs" stroke="#000" stroke-width="0.9">R+6</text>
<text x="28.5" y="372" font-size="31.5" font-weight="bold" transform="rotate(-90 28.5 372)" textLength="224" lengthAdjust="spacingAndGlyphs">Water intake, g</text>
<text x="29" y="618.7" font-size="31.5" font-weight="bold" transform="rotate(-90 29 618.7)" textLength="160.7" lengthAdjust="spacingAndGlyphs">Diuresis, g</text>
<text x="1367.8" y="300.1" font-size="33" font-weight="bold" transform="rotate(90 1367.8 300.1)" textLength="158" lengthAdjust="spacingAndGlyphs">Balance, g</text>
<text x="487" y="36.4" font-size="46" font-weight="bold" textLength="479" lengthAdjust="spacingAndGlyphs">Water balance in HDBR</text>
<text x="4.5" y="79" font-size="32.5" font-weight="bold">A</text>
<line x1="1620.6" y1="186.9" x2="1620.6" y2="176.7" stroke="#a9a9ad" stroke-width="3" stroke-linecap="butt"/>
<rect x="1609" y="186.9" width="23.2" height="196.9" fill="#a2a2a7" stroke="#88878d" stroke-width="1.6"/>
<line x1="1651.8" y1="186.9" x2="1651.8" y2="179.2" stroke="#a9a9ad" stroke-width="3" stroke-linecap="butt"/>
<rect x="1640.2" y="186.9" width="23.2" height="196.9" fill="#a2a2a7" stroke="#88878d" stroke-width="1.6"/>
<line x1="1685.8" y1="242.4" x2="1685.8" y2="230.9" stroke="#a9a9ad" stroke-width="3" stroke-linecap="butt"/>
<rect x="1674.2" y="242.4" width="23.2" height="141.4" fill="#a2a2a7" stroke="#88878d" stroke-width="1.6"/>
<line x1="1718.6" y1="234" x2="1718.6" y2="220.1" stroke="#a9a9ad" stroke-width="3" stroke-linecap="butt"/>
<rect x="1707" y="234" width="23.2" height="149.8" fill="#a2a2a7" stroke="#88878d" stroke-width="1.6"/>
<line x1="1751" y1="251.1" x2="1751" y2="241.8" stroke="#a9a9ad" stroke-width="3" stroke-linecap="butt"/>
<rect x="1739.4" y="251.1" width="23.2" height="132.7" fill="#a2a2a7" stroke="#88878d" stroke-width="1.6"/>
<line x1="1783" y1="186.9" x2="1783" y2="176.1" stroke="#a9a9ad" stroke-width="3" stroke-linecap="butt"/>
<rect x="1771.4" y="186.9" width="23.2" height="196.9" fill="#a2a2a7" stroke="#88878d" stroke-width="1.6"/>
<line x1="1816.2" y1="180.7" x2="1816.2" y2="168.9" stroke="#a9a9ad" stroke-width="3" stroke-linecap="butt"/>
<rect x="1804.6" y="180.7" width="23.2" height="203.1" fill="#a2a2a7" stroke="#88878d" stroke-width="1.6"/>
<line x1="1620.6" y1="558.8" x2="1620.6" y2="572.8" stroke="#7a7a7a" stroke-width="3" stroke-linecap="butt"/>
<rect x="1609" y="396.3" width="23.2" height="162.5" fill="#606060" stroke="#474747" stroke-width="1.6"/>
<line x1="1651.8" y1="550.4" x2="1651.8" y2="564.4" stroke="#7a7a7a" stroke-width="3" stroke-linecap="butt"/>
<rect x="1640.2" y="396.3" width="23.2" height="154.1" fill="#606060" stroke="#474747" stroke-width="1.6"/>
<line x1="1685.8" y1="550.4" x2="1685.8" y2="565.8" stroke="#7a7a7a" stroke-width="3" stroke-linecap="butt"/>
<rect x="1674.2" y="396.3" width="23.2" height="154.1" fill="#606060" stroke="#474747" stroke-width="1.6"/>
<line x1="1718.6" y1="516.8" x2="1718.6" y2="530.8" stroke="#7a7a7a" stroke-width="3" stroke-linecap="butt"/>
<rect x="1707" y="396.3" width="23.2" height="120.5" fill="#606060" stroke="#474747" stroke-width="1.6"/>
<line x1="1751" y1="491.6" x2="1751" y2="501.4" stroke="#7a7a7a" stroke-width="3" stroke-linecap="butt"/>
<rect x="1739.4" y="396.3" width="23.2" height="95.3" fill="#606060" stroke="#474747" stroke-width="1.6"/>
<line x1="1783" y1="483.2" x2="1783" y2="491.6" stroke="#7a7a7a" stroke-width="3" stroke-linecap="butt"/>
<rect x="1771.4" y="396.3" width="23.2" height="86.9" fill="#606060" stroke="#474747" stroke-width="1.6"/>
<line x1="1816.2" y1="511.2" x2="1816.2" y2="525.2" stroke="#7a7a7a" stroke-width="3" stroke-linecap="butt"/>
<rect x="1804.6" y="396.3" width="23.2" height="114.9" fill="#606060" stroke="#474747" stroke-width="1.6"/>
<rect x="1668" y="94.6" width="100.8" height="591.6" fill="none" stroke="#000" stroke-width="2.3" rx="4"/>
<line x1="1601" y1="391.3" x2="1837" y2="391.3" stroke="#000" stroke-width="7.4" stroke-linecap="butt"/>
<line x1="1604.5" y1="92.4" x2="1604.5" y2="689.7" stroke="#000" stroke-width="8" stroke-linecap="butt"/>
<line x1="1834.6" y1="92.4" x2="1834.6" y2="689.7" stroke="#000" stroke-width="4" stroke-linecap="butt"/>
<line x1="1601" y1="686.2" x2="1837" y2="686.2" stroke="#000" stroke-width="7.5" stroke-linecap="butt"/>
<line x1="1620.6" y1="674.2" x2="1620.6" y2="686.2" stroke="#000" stroke-width="5.5" stroke-linecap="butt"/>
<line x1="1651.8" y1="674.2" x2="1651.8" y2="686.2" stroke="#000" stroke-width="5.5" stroke-linecap="butt"/>
<line x1="1685.8" y1="674.2" x2="1685.8" y2="686.2" stroke="#000" stroke-width="5.5" stroke-linecap="butt"/>
<line x1="1718.6" y1="674.2" x2="1718.6" y2="686.2" stroke="#000" stroke-width="5.5" stroke-linecap="butt"/>
<line x1="1751" y1="674.2" x2="1751" y2="686.2" stroke="#000" stroke-width="5.5" stroke-linecap="butt"/>
<line x1="1783" y1="674.2" x2="1783" y2="686.2" stroke="#000" stroke-width="5.5" stroke-linecap="butt"/>
<line x1="1816.2" y1="674.2" x2="1816.2" y2="686.2" stroke="#000" stroke-width="5.5" stroke-linecap="butt"/>
<line x1="1591.6" y1="666.1" x2="1604.5" y2="666.1" stroke="#000" stroke-width="6" stroke-linecap="butt"/>
<line x1="1834.6" y1="666.1" x2="1845.5" y2="666.1" stroke="#000" stroke-width="3.6" stroke-linecap="butt"/>
<line x1="1591.6" y1="597.4" x2="1604.5" y2="597.4" stroke="#000" stroke-width="6" stroke-linecap="butt"/>
<line x1="1834.6" y1="597.4" x2="1845.5" y2="597.4" stroke="#000" stroke-width="3.6" stroke-linecap="butt"/>
<line x1="1591.6" y1="528.7" x2="1604.5" y2="528.7" stroke="#000" stroke-width="6" stroke-linecap="butt"/>
<line x1="1834.6" y1="528.7" x2="1845.5" y2="528.7" stroke="#000" stroke-width="3.6" stroke-linecap="butt"/>
<line x1="1591.6" y1="460" x2="1604.5" y2="460" stroke="#000" stroke-width="6" stroke-linecap="butt"/>
<line x1="1834.6" y1="460" x2="1845.5" y2="460" stroke="#000" stroke-width="3.6" stroke-linecap="butt"/>
<line x1="1591.6" y1="391.3" x2="1604.5" y2="391.3" stroke="#000" stroke-width="6" stroke-linecap="butt"/>
<line x1="1834.6" y1="391.3" x2="1845.5" y2="391.3" stroke="#000" stroke-width="3.6" stroke-linecap="butt"/>
<line x1="1591.6" y1="322.6" x2="1604.5" y2="322.6" stroke="#000" stroke-width="6" stroke-linecap="butt"/>
<line x1="1834.6" y1="322.6" x2="1845.5" y2="322.6" stroke="#000" stroke-width="3.6" stroke-linecap="butt"/>
<line x1="1591.6" y1="253.9" x2="1604.5" y2="253.9" stroke="#000" stroke-width="6" stroke-linecap="butt"/>
<line x1="1834.6" y1="253.9" x2="1845.5" y2="253.9" stroke="#000" stroke-width="3.6" stroke-linecap="butt"/>
<line x1="1591.6" y1="185.2" x2="1604.5" y2="185.2" stroke="#000" stroke-width="6" stroke-linecap="butt"/>
<line x1="1834.6" y1="185.2" x2="1845.5" y2="185.2" stroke="#000" stroke-width="3.6" stroke-linecap="butt"/>
<line x1="1591.6" y1="116.5" x2="1604.5" y2="116.5" stroke="#000" stroke-width="6" stroke-linecap="butt"/>
<line x1="1834.6" y1="116.5" x2="1845.5" y2="116.5" stroke="#000" stroke-width="3.6" stroke-linecap="butt"/>
<text x="1588" y="677.3" font-size="32" font-weight="bold" text-anchor="end">-4000</text>
<text x="1852.5" y="677" font-size="33.5" textLength="80" lengthAdjust="spacingAndGlyphs" stroke="#000" stroke-width="0.5">-4000</text>
<text x="1588" y="608.6" font-size="32" font-weight="bold" text-anchor="end">-3000</text>
<text x="1852.5" y="608.3" font-size="33.5" textLength="80" lengthAdjust="spacingAndGlyphs" stroke="#000" stroke-width="0.5">-3000</text>
<text x="1588" y="539.9" font-size="32" font-weight="bold" text-anchor="end">-2000</text>
<text x="1852.5" y="539.6" font-size="33.5" textLength="80" lengthAdjust="spacingAndGlyphs" stroke="#000" stroke-width="0.5">-2000</text>
<text x="1588" y="471.2" font-size="32" font-weight="bold" text-anchor="end">-1000</text>
<text x="1852.5" y="470.9" font-size="33.5" textLength="80" lengthAdjust="spacingAndGlyphs" stroke="#000" stroke-width="0.5">-1000</text>
<text x="1588" y="402.5" font-size="32" font-weight="bold" text-anchor="end">0</text>
<text x="1852.5" y="402.2" font-size="33.5" textLength="17.6" lengthAdjust="spacingAndGlyphs" stroke="#000" stroke-width="0.5">0</text>
<text x="1588" y="333.8" font-size="32" font-weight="bold" text-anchor="end">1000</text>
<text x="1852.5" y="333.5" font-size="33.5" textLength="70.5" lengthAdjust="spacingAndGlyphs" stroke="#000" stroke-width="0.5">1000</text>
<text x="1588" y="265.1" font-size="32" font-weight="bold" text-anchor="end">2000</text>
<text x="1852.5" y="264.8" font-size="33.5" textLength="70.5" lengthAdjust="spacingAndGlyphs" stroke="#000" stroke-width="0.5">2000</text>
<text x="1588" y="196.4" font-size="32" font-weight="bold" text-anchor="end">3000</text>
<text x="1852.5" y="196.1" font-size="33.5" textLength="70.5" lengthAdjust="spacingAndGlyphs" stroke="#000" stroke-width="0.5">3000</text>
<text x="1588" y="127.7" font-size="32" font-weight="bold" text-anchor="end">4000</text>
<text x="1852.5" y="127.4" font-size="33.5" textLength="70.5" lengthAdjust="spacingAndGlyphs" stroke="#000" stroke-width="0.5">4000</text>
<polyline points="1621.6,353.4 1654.6,348.7 1687.4,402.1 1720.2,361.1 1753,350.9 1786,279 1818.8,301.3" fill="none" stroke="#3a3a3a" stroke-width="2.2" stroke-linejoin="round"/>
<circle cx="1621.6" cy="353.4" r="9.5" fill="#363636"/>
<circle cx="1654.6" cy="348.7" r="9.5" fill="#363636"/>
<circle cx="1687.4" cy="402.1" r="9.5" fill="#363636"/>
<circle cx="1720.2" cy="361.1" r="9.5" fill="#363636"/>
<circle cx="1753" cy="350.9" r="9.5" fill="#363636"/>
<circle cx="1786" cy="279" r="9.5" fill="#363636"/>
<circle cx="1818.8" cy="301.3" r="9.5" fill="#363636"/>
<text x="1627.9" y="599.6" font-size="27.5" text-anchor="end" transform="rotate(-90 1627.9 599.6)" textLength="37.5" lengthAdjust="spacingAndGlyphs" stroke="#000" stroke-width="0.5">B-2</text>
<text x="1659.1" y="599.6" font-size="27.5" text-anchor="end" transform="rotate(-90 1659.1 599.6)" textLength="36.5" lengthAdjust="spacingAndGlyphs" stroke="#000" stroke-width="0.5">B-1</text>
<text x="1693.1" y="599.6" font-size="27.5" text-anchor="end" transform="rotate(-90 1693.1 599.6)" textLength="61" lengthAdjust="spacingAndGlyphs" stroke="#000" stroke-width="0.5">1st d</text>
<text x="1725.9" y="599.6" font-size="27.5" text-anchor="end" transform="rotate(-90 1725.9 599.6)" textLength="69.5" lengthAdjust="spacingAndGlyphs" stroke="#000" stroke-width="0.5">2nd d</text>
<text x="1758.3" y="599.6" font-size="27.5" text-anchor="end" transform="rotate(-90 1758.3 599.6)" textLength="63" lengthAdjust="spacingAndGlyphs" stroke="#000" stroke-width="0.5">3rd d</text>
<text x="1790.3" y="599.6" font-size="27.5" text-anchor="end" transform="rotate(-90 1790.3 599.6)" textLength="44" lengthAdjust="spacingAndGlyphs" stroke="#000" stroke-width="0.5">R+0</text>
<text x="1823.5" y="599.6" font-size="27.5" text-anchor="end" transform="rotate(-90 1823.5 599.6)" textLength="43" lengthAdjust="spacingAndGlyphs" stroke="#000" stroke-width="0.5">R+1</text>
<text x="1481" y="375" font-size="31.5" font-weight="bold" transform="rotate(-90 1481 375)" textLength="223" lengthAdjust="spacingAndGlyphs">Water intake, g</text>
<text x="1482" y="623.2" font-size="31.5" font-weight="bold" transform="rotate(-90 1482 623.2)" textLength="159.6" lengthAdjust="spacingAndGlyphs">Diuresis, g</text>
<text x="1944.4" y="305.7" font-size="33" font-weight="bold" transform="rotate(90 1944.4 305.7)" textLength="158" lengthAdjust="spacingAndGlyphs">Balance, g</text>
<text x="1547.4" y="41.8" font-size="43" font-weight="bold" textLength="393.6" lengthAdjust="spacingAndGlyphs">Water balance in DI</text>
<text x="1404.5" y="80.3" font-size="30.5" font-weight="bold">B</text>
<rect x="725" y="772.2" width="35.3" height="21.3" fill="#a2a2a7" stroke="#88878d" stroke-width="1.2"/>
<text x="781" y="792" font-size="33.5" textLength="171.7" lengthAdjust="spacingAndGlyphs">Water intake</text>
<rect x="1210.5" y="775.5" width="32.2" height="20.2" fill="#606060" stroke="#3c3c3c" stroke-width="1.6"/>
<text x="1265.2" y="794.2" font-size="34.5" textLength="112.5" lengthAdjust="spacingAndGlyphs">Diuresis</text>
<line x1="1522.5" y1="780.5" x2="1560.7" y2="780.5" stroke="#3a3a3a" stroke-width="3" stroke-linecap="butt"/>
<circle cx="1541.5" cy="780.5" r="9" fill="#363636"/>
<text x="1578" y="790" font-size="33.5" textLength="200.2" lengthAdjust="spacingAndGlyphs">Water balance</text>
<g transform="translate(524.3 849.2) scale(0.95 1)"><text x="0" y="0" font-size="42.5" font-weight="bold" textLength="435.8" lengthAdjust="spacing">Partial water balance</text></g>
<text x="5" y="939" font-size="32" font-weight="bold">C</text>
<rect x="529.5" y="923.8" width="393" height="692.2" fill="none" stroke="#000" stroke-width="4.8" rx="2"/>
<line x1="396" y1="1009" x2="1171" y2="1009" stroke="#000" stroke-width="4.8" stroke-linecap="round"/>
<line x1="401" y1="1519" x2="1171" y2="1519" stroke="#000" stroke-width="5" stroke-linecap="round"/>
<line x1="405" y1="1007" x2="405" y2="1521.5" stroke="#000" stroke-width="6.4" stroke-linecap="butt"/>
<line x1="467.5" y1="1009" x2="467.5" y2="1025" stroke="#000" stroke-width="4.6" stroke-linecap="butt"/>
<line x1="467.5" y1="1519" x2="467.5" y2="1533" stroke="#000" stroke-width="4.6" stroke-linecap="butt"/>
<line x1="594.8" y1="1009" x2="594.8" y2="1025" stroke="#000" stroke-width="4.6" stroke-linecap="butt"/>
<line x1="594.8" y1="1519" x2="594.8" y2="1533" stroke="#000" stroke-width="4.6" stroke-linecap="butt"/>
<line x1="722.1" y1="1009" x2="722.1" y2="1025" stroke="#000" stroke-width="4.6" stroke-linecap="butt"/>
<line x1="722.1" y1="1519" x2="722.1" y2="1533" stroke="#000" stroke-width="4.6" stroke-linecap="butt"/>
<line x1="849.4" y1="1009" x2="849.4" y2="1025" stroke="#000" stroke-width="4.6" stroke-linecap="butt"/>
<line x1="849.4" y1="1519" x2="849.4" y2="1533" stroke="#000" stroke-width="4.6" stroke-linecap="butt"/>
<line x1="976.7" y1="1009" x2="976.7" y2="1025" stroke="#000" stroke-width="4.6" stroke-linecap="butt"/>
<line x1="976.7" y1="1519" x2="976.7" y2="1533" stroke="#000" stroke-width="4.6" stroke-linecap="butt"/>
<line x1="1104" y1="1009" x2="1104" y2="1025" stroke="#000" stroke-width="4.6" stroke-linecap="butt"/>
<line x1="1104" y1="1519" x2="1104" y2="1533" stroke="#000" stroke-width="4.6" stroke-linecap="butt"/>
<line x1="396" y1="1518.7" x2="405" y2="1518.7" stroke="#000" stroke-width="4.2" stroke-linecap="butt"/>
<line x1="388" y1="1498.3" x2="405" y2="1498.3" stroke="#000" stroke-width="4.6" stroke-linecap="butt"/>
<line x1="396" y1="1477.9" x2="405" y2="1477.9" stroke="#000" stroke-width="4.2" stroke-linecap="butt"/>
<line x1="396" y1="1457.5" x2="405" y2="1457.5" stroke="#000" stroke-width="4.2" stroke-linecap="butt"/>
<line x1="396" y1="1437.1" x2="405" y2="1437.1" stroke="#000" stroke-width="4.2" stroke-linecap="butt"/>
<line x1="396" y1="1416.7" x2="405" y2="1416.7" stroke="#000" stroke-width="4.2" stroke-linecap="butt"/>
<line x1="388" y1="1396.3" x2="405" y2="1396.3" stroke="#000" stroke-width="4.6" stroke-linecap="butt"/>
<line x1="396" y1="1375.9" x2="405" y2="1375.9" stroke="#000" stroke-width="4.2" stroke-linecap="butt"/>
<line x1="396" y1="1355.5" x2="405" y2="1355.5" stroke="#000" stroke-width="4.2" stroke-linecap="butt"/>
<line x1="396" y1="1335.1" x2="405" y2="1335.1" stroke="#000" stroke-width="4.2" stroke-linecap="butt"/>
<line x1="396" y1="1314.7" x2="405" y2="1314.7" stroke="#000" stroke-width="4.2" stroke-linecap="butt"/>
<line x1="388" y1="1294.3" x2="405" y2="1294.3" stroke="#000" stroke-width="4.6" stroke-linecap="butt"/>
<line x1="396" y1="1273.9" x2="405" y2="1273.9" stroke="#000" stroke-width="4.2" stroke-linecap="butt"/>
<line x1="396" y1="1253.5" x2="405" y2="1253.5" stroke="#000" stroke-width="4.2" stroke-linecap="butt"/>
<line x1="396" y1="1233.1" x2="405" y2="1233.1" stroke="#000" stroke-width="4.2" stroke-linecap="butt"/>
<line x1="396" y1="1212.7" x2="405" y2="1212.7" stroke="#000" stroke-width="4.2" stroke-linecap="butt"/>
<line x1="388" y1="1192.3" x2="405" y2="1192.3" stroke="#000" stroke-width="4.6" stroke-linecap="butt"/>
<line x1="396" y1="1171.9" x2="405" y2="1171.9" stroke="#000" stroke-width="4.2" stroke-linecap="butt"/>
<line x1="396" y1="1151.5" x2="405" y2="1151.5" stroke="#000" stroke-width="4.2" stroke-linecap="butt"/>
<line x1="396" y1="1131.1" x2="405" y2="1131.1" stroke="#000" stroke-width="4.2" stroke-linecap="butt"/>
<line x1="396" y1="1110.7" x2="405" y2="1110.7" stroke="#000" stroke-width="4.2" stroke-linecap="butt"/>
<line x1="388" y1="1090.3" x2="405" y2="1090.3" stroke="#000" stroke-width="4.6" stroke-linecap="butt"/>
<line x1="396" y1="1069.9" x2="405" y2="1069.9" stroke="#000" stroke-width="4.2" stroke-linecap="butt"/>
<line x1="396" y1="1049.5" x2="405" y2="1049.5" stroke="#000" stroke-width="4.2" stroke-linecap="butt"/>
<line x1="396" y1="1029.1" x2="405" y2="1029.1" stroke="#000" stroke-width="4.2" stroke-linecap="butt"/>
<text x="383" y="1103.9" font-size="37" font-weight="bold" text-anchor="end">1.5</text>
<text x="383" y="1205.9" font-size="37" font-weight="bold" text-anchor="end">1.0</text>
<text x="383" y="1307.9" font-size="37" font-weight="bold" text-anchor="end">0.5</text>
<text x="383" y="1409.9" font-size="37" font-weight="bold" text-anchor="end">0.0</text>
<text x="383" y="1511.9" font-size="37" font-weight="bold" text-anchor="end">-0.5</text>
<text x="291.5" y="1374" font-size="41" font-weight="bold" transform="rotate(-90 291.5 1374)" textLength="225.5" lengthAdjust="spacingAndGlyphs">Balance, kg</text>
<text x="540" y="960.2" font-size="29" font-weight="bold" textLength="106.4" lengthAdjust="spacing">1st day</text>
<text x="656.2" y="960.2" font-size="29" font-weight="bold" textLength="127.4" lengthAdjust="spacing">13th day</text>
<text x="783.6" y="960.2" font-size="29" font-weight="bold" textLength="127.4" lengthAdjust="spacing">21th day</text>
<text x="441.4" y="996" font-size="29" font-weight="bold" textLength="46" lengthAdjust="spacing">B-1</text>
<text x="548.4" y="996.5" font-size="29" font-weight="bold" textLength="88.2" lengthAdjust="spacing">HDBR</text>
<text x="676.4" y="996.5" font-size="29" font-weight="bold" textLength="87.8" lengthAdjust="spacing">HDBR</text>
<text x="803.3" y="996.5" font-size="29" font-weight="bold" textLength="87.8" lengthAdjust="spacing">HDBR</text>
<text x="942.5" y="995" font-size="29" font-weight="bold" textLength="63.5" lengthAdjust="spacing">R+ 0</text>
<text x="1069.3" y="995" font-size="29" font-weight="bold" textLength="63.4" lengthAdjust="spacing">R+ 1</text>
<text x="442.1" y="1566.5" font-size="29" font-weight="bold" textLength="45.4" lengthAdjust="spacing">B-1</text>
<text x="536" y="1566.5" font-size="29" font-weight="bold" textLength="105.4" lengthAdjust="spacing">1st day</text>
<text x="657.6" y="1566.5" font-size="29" font-weight="bold" textLength="116.6" lengthAdjust="spacing">2nd day</text>
<text x="787.2" y="1566.5" font-size="29" font-weight="bold" textLength="111.2" lengthAdjust="spacing">3rd day</text>
<text x="579.3" y="1604" font-size="29" font-weight="bold" textLength="27" lengthAdjust="spacing">DI</text>
<text x="707.6" y="1604" font-size="29" font-weight="bold" textLength="27" lengthAdjust="spacing">DI</text>
<text x="834.5" y="1604" font-size="29" font-weight="bold" textLength="27" lengthAdjust="spacing">DI</text>
<text x="948" y="1567.2" font-size="29" font-weight="bold" textLength="56" lengthAdjust="spacing">R+0</text>
<text x="1076" y="1567.2" font-size="29" font-weight="bold" textLength="52" lengthAdjust="spacing">R+1</text>
<line x1="418.6" y1="1396.3" x2="1160" y2="1396.3" stroke="#000" stroke-width="5" stroke-dasharray="0 15.25" stroke-linecap="round"/>
<polyline points="467.5,1269.2 594.8,1431 722.1,1307.8 849.4,1276.1 976.7,1061.5 1104,1130.5" fill="none" stroke="#555555" stroke-width="3.2" stroke-linejoin="round"/>
<line x1="467.5" y1="1253.5" x2="467.5" y2="1283.1" stroke="#555555" stroke-width="2.6" stroke-linecap="butt"/>
<line x1="462" y1="1253.5" x2="473" y2="1253.5" stroke="#555555" stroke-width="2.6" stroke-linecap="butt"/>
<line x1="462" y1="1283.1" x2="473" y2="1283.1" stroke="#555555" stroke-width="2.6" stroke-linecap="butt"/>
<line x1="594.8" y1="1410.6" x2="594.8" y2="1457.5" stroke="#555555" stroke-width="2.6" stroke-linecap="butt"/>
<line x1="589.3" y1="1410.6" x2="600.3" y2="1410.6" stroke="#555555" stroke-width="2.6" stroke-linecap="butt"/>
<line x1="589.3" y1="1457.5" x2="600.3" y2="1457.5" stroke="#555555" stroke-width="2.6" stroke-linecap="butt"/>
<line x1="722.1" y1="1290.2" x2="722.1" y2="1325.9" stroke="#555555" stroke-width="2.6" stroke-linecap="butt"/>
<line x1="716.6" y1="1290.2" x2="727.6" y2="1290.2" stroke="#555555" stroke-width="2.6" stroke-linecap="butt"/>
<line x1="716.6" y1="1325.9" x2="727.6" y2="1325.9" stroke="#555555" stroke-width="2.6" stroke-linecap="butt"/>
<line x1="849.4" y1="1257.6" x2="849.4" y2="1292.7" stroke="#555555" stroke-width="2.6" stroke-linecap="butt"/>
<line x1="843.9" y1="1257.6" x2="854.9" y2="1257.6" stroke="#555555" stroke-width="2.6" stroke-linecap="butt"/>
<line x1="843.9" y1="1292.7" x2="854.9" y2="1292.7" stroke="#555555" stroke-width="2.6" stroke-linecap="butt"/>
<line x1="976.7" y1="1039.3" x2="976.7" y2="1084.2" stroke="#555555" stroke-width="2.6" stroke-linecap="butt"/>
<line x1="971.2" y1="1039.3" x2="982.2" y2="1039.3" stroke="#555555" stroke-width="2.6" stroke-linecap="butt"/>
<line x1="971.2" y1="1084.2" x2="982.2" y2="1084.2" stroke="#555555" stroke-width="2.6" stroke-linecap="butt"/>
<line x1="1104" y1="1110.7" x2="1104" y2="1149.5" stroke="#555555" stroke-width="2.6" stroke-linecap="butt"/>
<line x1="1098.5" y1="1110.7" x2="1109.5" y2="1110.7" stroke="#555555" stroke-width="2.6" stroke-linecap="butt"/>
<line x1="1098.5" y1="1149.5" x2="1109.5" y2="1149.5" stroke="#555555" stroke-width="2.6" stroke-linecap="butt"/>
<circle cx="467.5" cy="1269.2" r="11" fill="#6a6a6a"/>
<circle cx="594.8" cy="1431" r="11" fill="#6a6a6a"/>
<circle cx="722.1" cy="1307.8" r="11" fill="#6a6a6a"/>
<circle cx="849.4" cy="1276.1" r="11" fill="#6a6a6a"/>
<circle cx="976.7" cy="1061.5" r="11" fill="#6a6a6a"/>
<circle cx="1104" cy="1130.5" r="11" fill="#6a6a6a"/>
<polyline points="467.5,1212.3 594.8,1411 722.1,1258 849.4,1237 976.7,1072.6 1104,1153.7" fill="none" stroke="#000" stroke-width="5" stroke-linejoin="round"/>
<line x1="467.5" y1="1186.2" x2="467.5" y2="1235.1" stroke="#000" stroke-width="3.2" stroke-linecap="butt"/>
<line x1="461.5" y1="1186.2" x2="473.5" y2="1186.2" stroke="#000" stroke-width="3.2" stroke-linecap="butt"/>
<line x1="461.5" y1="1235.1" x2="473.5" y2="1235.1" stroke="#000" stroke-width="3.2" stroke-linecap="butt"/>
<line x1="594.8" y1="1392.2" x2="594.8" y2="1428.9" stroke="#000" stroke-width="3.2" stroke-linecap="butt"/>
<line x1="588.8" y1="1392.2" x2="600.8" y2="1392.2" stroke="#000" stroke-width="3.2" stroke-linecap="butt"/>
<line x1="588.8" y1="1428.9" x2="600.8" y2="1428.9" stroke="#000" stroke-width="3.2" stroke-linecap="butt"/>
<line x1="722.1" y1="1242.7" x2="722.1" y2="1273.9" stroke="#000" stroke-width="3.2" stroke-linecap="butt"/>
<line x1="716.1" y1="1242.7" x2="728.1" y2="1242.7" stroke="#000" stroke-width="3.2" stroke-linecap="butt"/>
<line x1="716.1" y1="1273.9" x2="728.1" y2="1273.9" stroke="#000" stroke-width="3.2" stroke-linecap="butt"/>
<line x1="849.4" y1="1220.5" x2="849.4" y2="1253.5" stroke="#000" stroke-width="3.2" stroke-linecap="butt"/>
<line x1="843.4" y1="1220.5" x2="855.4" y2="1220.5" stroke="#000" stroke-width="3.2" stroke-linecap="butt"/>
<line x1="843.4" y1="1253.5" x2="855.4" y2="1253.5" stroke="#000" stroke-width="3.2" stroke-linecap="butt"/>
<line x1="976.7" y1="1046.4" x2="976.7" y2="1098.5" stroke="#000" stroke-width="3.2" stroke-linecap="butt"/>
<line x1="970.7" y1="1046.4" x2="982.7" y2="1046.4" stroke="#000" stroke-width="3.2" stroke-linecap="butt"/>
<line x1="970.7" y1="1098.5" x2="982.7" y2="1098.5" stroke="#000" stroke-width="3.2" stroke-linecap="butt"/>
<line x1="1104" y1="1133.1" x2="1104" y2="1173.9" stroke="#000" stroke-width="3.2" stroke-linecap="butt"/>
<line x1="1098" y1="1133.1" x2="1110" y2="1133.1" stroke="#000" stroke-width="3.2" stroke-linecap="butt"/>
<line x1="1098" y1="1173.9" x2="1110" y2="1173.9" stroke="#000" stroke-width="3.2" stroke-linecap="butt"/>
<rect x="456.5" y="1201.3" width="22" height="22" fill="#000" rx="2"/>
<rect x="583.8" y="1400" width="22" height="22" fill="#000" rx="2"/>
<rect x="711.1" y="1247" width="22" height="22" fill="#000" rx="2"/>
<rect x="838.4" y="1226" width="22" height="22" fill="#000" rx="2"/>
<rect x="965.7" y="1061.6" width="22" height="22" fill="#000" rx="2"/>
<rect x="1093" y="1142.7" width="22" height="22" fill="#000" rx="2"/>
<text x="593.5" y="1384.9" font-size="43.7" font-weight="bold" text-anchor="middle">*</text>
<text x="595" y="1512.8" font-size="48.8" text-anchor="middle" fill="#6a6a6a">*</text>
<text x="994.8" y="1058.8" font-size="44.7" font-weight="bold" text-anchor="middle">*</text>
<text x="975.8" y="1148.5" font-size="48.8" text-anchor="middle" fill="#6a6a6a">*</text>
<text x="1103.9" y="1213.4" font-size="48.8" text-anchor="middle" fill="#6a6a6a">*</text>
<line x1="1194.3" y1="1070" x2="1248.2" y2="1070" stroke="#000" stroke-width="4.6" stroke-linecap="butt"/>
<rect x="1210.8" y="1058.6" width="22" height="22.4" fill="#000" rx="2"/>
<text x="1279" y="1081.7" font-size="37" textLength="305.4" lengthAdjust="spacingAndGlyphs">21-d HDBR (n=11)</text>
<line x1="1192" y1="1137.8" x2="1246" y2="1137.8" stroke="#555555" stroke-width="3.2" stroke-linecap="butt"/>
<circle cx="1219.2" cy="1137.8" r="12" fill="#6a6a6a"/>
<text x="1276.8" y="1150" font-size="37" textLength="215.6" lengthAdjust="spacingAndGlyphs">3-d DI (n=12)</text>
<text x="1228.5" y="1342.5" font-size="34" textLength="230.8" lengthAdjust="spacingAndGlyphs">ANOVA table</text>
<text x="1542.4" y="1342.5" font-size="34" textLength="224.8" lengthAdjust="spacingAndGlyphs">F (DFn, DFd)</text>
<text x="1830" y="1342.5" font-size="34" textLength="127.5" lengthAdjust="spacingAndGlyphs">P value</text>
<line x1="1204.2" y1="1355.9" x2="1994" y2="1355.9" stroke="#000" stroke-width="2.6" stroke-linecap="butt"/>
<text x="1273" y="1390" font-size="34" textLength="249.1" lengthAdjust="spacingAndGlyphs">Models x Time</text>
<text x="1542.4" y="1390" font-size="34" textLength="260" lengthAdjust="spacingAndGlyphs">F (5, 105) = 1.3</text>
<text x="1830" y="1390" font-size="34" textLength="142.5" lengthAdjust="spacingAndGlyphs">P=0.273</text>
<line x1="1204.2" y1="1406.1" x2="1994" y2="1406.1" stroke="#000" stroke-width="2.6" stroke-linecap="butt"/>
<text x="1223.5" y="1439.7" font-size="34" font-weight="bold" textLength="21" lengthAdjust="spacingAndGlyphs" font-style="italic">#</text>
<text x="1273" y="1439.7" font-size="34" textLength="121.5" lengthAdjust="spacingAndGlyphs">Models</text>
<text x="1542.4" y="1439.7" font-size="34" textLength="224.8" lengthAdjust="spacingAndGlyphs">F (1, 21) = 11</text>
<text x="1830" y="1439.7" font-size="34" textLength="142.5" lengthAdjust="spacingAndGlyphs">P=0.003</text>
<line x1="1204.2" y1="1453.9" x2="1994" y2="1453.9" stroke="#000" stroke-width="2.6" stroke-linecap="butt"/>
<text x="1235.6" y="1500.2" font-size="47.4" font-weight="bold" text-anchor="middle">*</text>
<text x="1273" y="1487" font-size="34" textLength="83" lengthAdjust="spacingAndGlyphs">Time</text>
<text x="1542.4" y="1487" font-size="34" textLength="246.2" lengthAdjust="spacingAndGlyphs">F (5, 105) = 71</text>
<text x="1830" y="1487" font-size="34" textLength="139.7" lengthAdjust="spacingAndGlyphs">P&lt;0.001</text>
</svg>
</body></html>
